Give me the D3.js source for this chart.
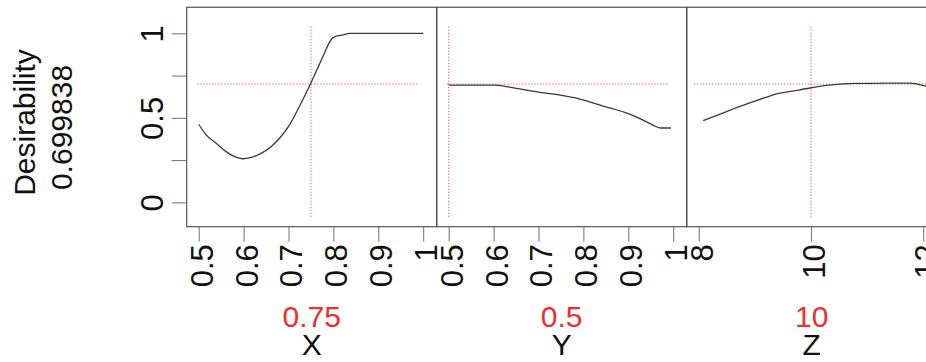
<!DOCTYPE html>
<html>
<head>
<meta charset="utf-8">
<script src="https://cdn.jsdelivr.net/npm/d3@7"></script>
<style>
  body { margin: 0; background: #fff; }
  svg { display: block; font-family: "Liberation Sans", Arial, sans-serif; }
</style>
</head>
<body>
<svg id="chart" width="926" height="362"></svg>
<script>
// factor names and the current setting of each
var factors = ["X", "Y", "Z"];
var settings = [0.75, 0.5, 10];
var overall = 0.699838;

// x range and ticks of every panel
var xDomains = [[0.5, 1], [0.5, 1], [8, 12]];
var xTicks = [[0.5, 0.6, 0.7, 0.8, 0.9, 1], [0.5, 0.6, 0.7, 0.8, 0.9, 1], [8, 10, 12]];
var yTicks = [0, 0.25, 0.5, 0.75, 1];
var yLabels = ["0", "", "0.5", "", "1"];

// desirability profile, X
var profX = [0.5, 0.517, 0.539, 0.561, 0.58, 0.598, 0.617, 0.639, 0.661, 0.68, 0.702, 0.724, 0.746, 0.768, 0.781, 0.791, 0.798, 0.805, 0.812, 0.824, 0.835, 0.9, 1.0];
var profXd = [0.462, 0.398, 0.349, 0.300, 0.270, 0.258, 0.266, 0.290, 0.329, 0.379, 0.457, 0.566, 0.684, 0.812, 0.888, 0.945, 0.972, 0.982, 0.986, 0.993, 1.0, 1.0, 1.0];
// desirability profile, Y
var profY = [0.5, 0.55, 0.603, 0.651, 0.703, 0.755, 0.792, 0.844, 0.903, 0.933, 0.956, 0.971, 0.995];
var profYd = [0.694, 0.694, 0.694, 0.674, 0.651, 0.631, 0.611, 0.570, 0.522, 0.487, 0.456, 0.440, 0.440];
// desirability profile, Z
var profZ = [8.08, 8.44, 8.86, 9.09, 9.36, 9.69, 10.01, 10.28, 10.52, 10.93, 11.35, 11.77, 11.89, 12.05];
var profZd = [0.483, 0.530, 0.582, 0.609, 0.639, 0.659, 0.678, 0.692, 0.700, 0.704, 0.706, 0.706, 0.700, 0.688];

var profiles = [[profX, profXd], [profY, profYd], [profZ, profZd]];

// extent of the red guide lines
var hGuide = [[0.497, 0.987], [0.497, 0.987], [7.92, 12.4]];
var vGuide = [-0.085, 1.049];

var svg = d3.select("#chart");

var boxLeft = 186.7, panelW = 250, boxTop = 7.3, boxBottom = 226.7;
var red = "#e8302c";

var y = d3.scaleLinear().domain([-0.144, 1.154]).range([boxBottom, boxTop]);

// y axis
var yAxis = svg.append("g")
  .attr("transform", "translate(" + boxLeft + ",0)")
  .call(d3.axisLeft(y).tickValues(yTicks).tickSize(15).tickPadding(0)
    .tickFormat(function(d, i) { return yLabels[i]; }));
yAxis.select(".domain").remove();
yAxis.selectAll("line").attr("stroke", "#707070");
yAxis.selectAll("text")
  .attr("x", 0).attr("y", 0).attr("dy", null)
  .attr("transform", "translate(-23.3,0) rotate(-90)")
  .attr("text-anchor", "middle")
  .attr("font-size", 31)
  .attr("fill", "#111");

// left titles
svg.append("text")
  .attr("transform", "translate(35,122.5) rotate(-90)")
  .attr("text-anchor", "middle")
  .attr("font-size", 30)
  .attr("fill", "#111")
  .text("Desirability");
svg.append("text")
  .attr("transform", "translate(71.7,127.5) rotate(-90)")
  .attr("text-anchor", "middle")
  .attr("font-size", 30)
  .attr("fill", "#111")
  .text(d3.format(".6f")(overall));

factors.forEach(function(name, i) {
  var L = boxLeft + i * panelW;
  var x = d3.scaleLinear().domain(xDomains[i]).range([L + 12, L + 236.5]);
  var g = svg.append("g");

  // guides
  g.append("line")
    .attr("x1", x(hGuide[i][0])).attr("x2", x(hGuide[i][1]))
    .attr("y1", y(overall)).attr("y2", y(overall))
    .attr("stroke", red).attr("stroke-width", 1)
    .attr("stroke-dasharray", "1,2");
  g.append("line")
    .attr("x1", x(settings[i])).attr("x2", x(settings[i]))
    .attr("y1", y(vGuide[0])).attr("y2", y(vGuide[1]))
    .attr("stroke", red).attr("stroke-width", 1)
    .attr("stroke-dasharray", "1,2");

  // profile curve
  var pts = profiles[i][0].map(function(v, k) { return [v, profiles[i][1][k]]; });
  g.append("path")
    .datum(pts)
    .attr("fill", "none")
    .attr("stroke", "#3a3a3a")
    .attr("stroke-width", 1.3)
    .attr("d", d3.line().curve(d3.curveMonotoneX)
      .x(function(d) { return x(d[0]); })
      .y(function(d) { return y(d[1]); }));

  // box
  g.append("rect")
    .attr("x", L).attr("y", boxTop)
    .attr("width", panelW).attr("height", boxBottom - boxTop)
    .attr("fill", "none").attr("stroke", "#555").attr("stroke-width", 1.2);

  // x axis
  var ax = svg.append("g")
    .attr("transform", "translate(0," + boxBottom + ")")
    .call(d3.axisBottom(x).tickValues(xTicks[i]).tickSize(15)
      .tickFormat(d3.format("~g")));
  ax.select(".domain").remove();
  ax.selectAll("line").attr("stroke", "#707070");
  ax.selectAll("text")
    .attr("x", 0).attr("y", 0).attr("dy", null)
    .attr("transform", "translate(13.4,17.5) rotate(-90)")
    .attr("text-anchor", "end")
    .attr("font-size", 31)
    .attr("fill", "#111");

  // setting and factor name
  svg.append("text")
    .attr("x", L + panelW / 2).attr("y", 326.7)
    .attr("text-anchor", "middle")
    .attr("font-size", 30)
    .attr("fill", red)
    .text(d3.format("~g")(settings[i]));
  svg.append("text")
    .attr("x", L + panelW / 2).attr("y", 355)
    .attr("text-anchor", "middle")
    .attr("font-size", 30)
    .attr("fill", "#111")
    .text(name);
});
</script>
</body>
</html>
